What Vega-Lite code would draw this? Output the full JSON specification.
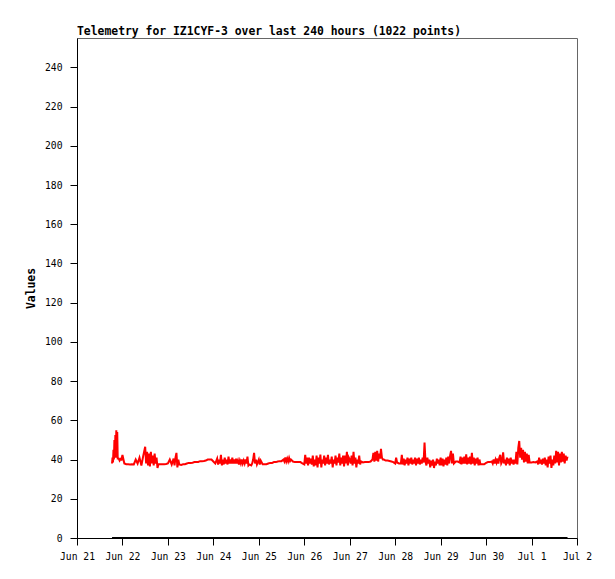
{
  "$schema": "https://vega.github.io/schema/vega-lite/v6.json",
  "width": 500,
  "height": 500,
  "autosize": {"type": "none"},
  "padding": {"left": 77, "top": 38, "right": 38, "bottom": 41},
  "background": "white",
  "title": {"text": "Telemetry for IZ1CYF-3 over last 240 hours (1022 points)", "anchor": "start", "frame": "group", "font": "DejaVu Sans Mono", "fontSize": 11.4, "fontWeight": "bold", "color": "black", "dx": 0, "dy": 11, "offset": 3, "baseline": "alphabetic"},
  "config": {
    "view": {"stroke": "#666", "strokeWidth": 1},
    "axis": {"labelFont": "DejaVu Sans Mono", "labelFontSize": 9.7, "labelColor": "black", "tickColor": "black", "domainColor": "black", "tickSize": 7, "grid": false, "titleFont": "DejaVu Sans Mono", "titleFontSize": 11.4, "titleFontWeight": "bold", "titleColor": "black"}
  },
  "datasets": {
    "zero": [{"t": "2024-06-21T18:30", "v": 0}, {"t": "2024-07-01T19:00", "v": 0}],
    "tele": [
      {"t":"2024-06-21T18:30","v":38},{"t":"2024-06-21T18:45","v":41},{"t":"2024-06-21T19:00","v":38.5},{"t":"2024-06-21T19:15","v":45},{"t":"2024-06-21T19:30","v":40},{"t":"2024-06-21T19:45","v":50},{"t":"2024-06-21T20:00","v":41},{"t":"2024-06-21T20:15","v":52.5},{"t":"2024-06-21T20:30","v":42},{"t":"2024-06-21T20:45","v":55},{"t":"2024-06-21T21:00","v":41},{"t":"2024-06-21T21:15","v":54},{"t":"2024-06-21T21:30","v":40.5},{"t":"2024-06-21T22:00","v":40.5},{"t":"2024-06-21T22:30","v":39.5},{"t":"2024-06-21T23:00","v":40.3},{"t":"2024-06-21T23:30","v":40},
      {"t":"2024-06-22T00:00","v":42.4},{"t":"2024-06-22T01:00","v":38},{"t":"2024-06-22T02:00","v":37.6},{"t":"2024-06-22T03:00","v":37.6},{"t":"2024-06-22T04:00","v":37.5},{"t":"2024-06-22T05:00","v":37.6},{"t":"2024-06-22T06:00","v":37.5},{"t":"2024-06-22T07:00","v":40},{"t":"2024-06-22T08:00","v":38},{"t":"2024-06-22T09:00","v":41},{"t":"2024-06-22T10:00","v":37},{"t":"2024-06-22T11:00","v":42},{"t":"2024-06-22T12:00","v":46.5},{"t":"2024-06-22T12:30","v":38},{"t":"2024-06-22T13:00","v":44},{"t":"2024-06-22T13:30","v":37},{"t":"2024-06-22T14:00","v":43},{"t":"2024-06-22T14:30","v":36.5},{"t":"2024-06-22T15:00","v":44},{"t":"2024-06-22T15:30","v":38},{"t":"2024-06-22T16:00","v":42},{"t":"2024-06-22T16:30","v":37},{"t":"2024-06-22T17:00","v":43},{"t":"2024-06-22T17:30","v":38},{"t":"2024-06-22T18:00","v":41},{"t":"2024-06-22T18:30","v":35.7},{"t":"2024-06-22T19:00","v":37.6},{"t":"2024-06-22T20:00","v":37.6},{"t":"2024-06-22T21:00","v":37.6},{"t":"2024-06-22T22:00","v":37.6},{"t":"2024-06-22T23:00","v":37.7},
      {"t":"2024-06-23T00:00","v":38},{"t":"2024-06-23T01:00","v":40},{"t":"2024-06-23T02:00","v":37.5},{"t":"2024-06-23T03:00","v":40.5},{"t":"2024-06-23T03:30","v":37},{"t":"2024-06-23T04:00","v":41},{"t":"2024-06-23T04:30","v":43.4},{"t":"2024-06-23T05:00","v":36},{"t":"2024-06-23T05:30","v":40},{"t":"2024-06-23T06:00","v":37.5},{"t":"2024-06-23T07:00","v":37.3},{"t":"2024-06-23T08:00","v":37.6},{"t":"2024-06-23T09:00","v":37.6},{"t":"2024-06-23T10:00","v":38},{"t":"2024-06-23T11:00","v":38.3},{"t":"2024-06-23T12:00","v":38.3},{"t":"2024-06-23T13:00","v":38.4},{"t":"2024-06-23T14:00","v":38.7},{"t":"2024-06-23T15:00","v":38.7},{"t":"2024-06-23T16:00","v":38.8},{"t":"2024-06-23T17:00","v":39.2},{"t":"2024-06-23T18:00","v":39.2},{"t":"2024-06-23T19:00","v":39.3},{"t":"2024-06-23T20:00","v":39.5},{"t":"2024-06-23T21:00","v":40},{"t":"2024-06-23T22:00","v":40},{"t":"2024-06-23T23:00","v":40},
      {"t":"2024-06-24T00:00","v":39},{"t":"2024-06-24T01:00","v":38},{"t":"2024-06-24T02:00","v":40.5},{"t":"2024-06-24T02:30","v":37.5},{"t":"2024-06-24T03:00","v":40},{"t":"2024-06-24T03:30","v":38},{"t":"2024-06-24T04:00","v":42.4},{"t":"2024-06-24T04:30","v":37},{"t":"2024-06-24T05:00","v":40},{"t":"2024-06-24T05:30","v":37.5},{"t":"2024-06-24T06:00","v":41},{"t":"2024-06-24T06:30","v":38},{"t":"2024-06-24T07:00","v":40},{"t":"2024-06-24T07:30","v":37.5},{"t":"2024-06-24T08:00","v":41.5},{"t":"2024-06-24T08:30","v":38},{"t":"2024-06-24T09:00","v":40},{"t":"2024-06-24T09:30","v":38},{"t":"2024-06-24T10:00","v":41},{"t":"2024-06-24T10:30","v":38},{"t":"2024-06-24T11:00","v":40},{"t":"2024-06-24T11:30","v":38},{"t":"2024-06-24T12:00","v":40.5},{"t":"2024-06-24T12:30","v":38},{"t":"2024-06-24T13:00","v":39.5},{"t":"2024-06-24T13:30","v":37.5},{"t":"2024-06-24T14:00","v":39.5},{"t":"2024-06-24T14:30","v":38},{"t":"2024-06-24T15:00","v":40},{"t":"2024-06-24T15:30","v":38},{"t":"2024-06-24T16:00","v":39.5},{"t":"2024-06-24T16:30","v":38},{"t":"2024-06-24T17:00","v":40},{"t":"2024-06-24T17:30","v":38},{"t":"2024-06-24T18:00","v":41.5},{"t":"2024-06-24T18:30","v":37},{"t":"2024-06-24T19:00","v":37.5},{"t":"2024-06-24T20:00","v":37},{"t":"2024-06-24T20:30","v":38},{"t":"2024-06-24T21:00","v":40},{"t":"2024-06-24T21:30","v":43.4},{"t":"2024-06-24T22:00","v":38},{"t":"2024-06-24T22:30","v":40},{"t":"2024-06-24T23:00","v":37.5},
      {"t":"2024-06-25T00:00","v":40},{"t":"2024-06-25T00:30","v":37.5},{"t":"2024-06-25T01:00","v":39.5},{"t":"2024-06-25T02:00","v":37.6},{"t":"2024-06-25T03:00","v":37.6},{"t":"2024-06-25T04:00","v":37.6},{"t":"2024-06-25T05:00","v":38},{"t":"2024-06-25T06:00","v":38.3},{"t":"2024-06-25T07:00","v":38.3},{"t":"2024-06-25T08:00","v":38.7},{"t":"2024-06-25T09:00","v":38.7},{"t":"2024-06-25T10:00","v":39},{"t":"2024-06-25T11:00","v":39.2},{"t":"2024-06-25T12:00","v":39.2},{"t":"2024-06-25T13:00","v":40},{"t":"2024-06-25T13:30","v":39},{"t":"2024-06-25T14:00","v":41},{"t":"2024-06-25T14:30","v":39},{"t":"2024-06-25T15:00","v":40.5},{"t":"2024-06-25T15:30","v":39},{"t":"2024-06-25T16:00","v":40.8},{"t":"2024-06-25T16:30","v":39.2},{"t":"2024-06-25T17:00","v":40},{"t":"2024-06-25T18:00","v":39},{"t":"2024-06-25T19:00","v":38.7},{"t":"2024-06-25T20:00","v":38.7},{"t":"2024-06-25T21:00","v":38.7},{"t":"2024-06-25T22:00","v":38.7},{"t":"2024-06-25T23:00","v":38},
      {"t":"2024-06-26T00:00","v":37.5},{"t":"2024-06-26T00:30","v":42.4},{"t":"2024-06-26T01:00","v":38},{"t":"2024-06-26T01:30","v":41},{"t":"2024-06-26T02:00","v":37},{"t":"2024-06-26T02:30","v":41},{"t":"2024-06-26T03:00","v":38},{"t":"2024-06-26T03:30","v":40.5},{"t":"2024-06-26T04:00","v":37.5},{"t":"2024-06-26T04:30","v":42},{"t":"2024-06-26T05:00","v":36.5},{"t":"2024-06-26T05:30","v":40},{"t":"2024-06-26T06:00","v":37},{"t":"2024-06-26T06:30","v":42},{"t":"2024-06-26T07:00","v":36},{"t":"2024-06-26T07:30","v":41},{"t":"2024-06-26T08:00","v":38},{"t":"2024-06-26T08:30","v":42.5},{"t":"2024-06-26T09:00","v":36},{"t":"2024-06-26T09:30","v":40},{"t":"2024-06-26T10:00","v":38},{"t":"2024-06-26T10:30","v":42},{"t":"2024-06-26T11:00","v":37},{"t":"2024-06-26T11:30","v":41},{"t":"2024-06-26T12:00","v":38},{"t":"2024-06-26T12:30","v":42.4},{"t":"2024-06-26T13:00","v":37.5},{"t":"2024-06-26T13:30","v":40},{"t":"2024-06-26T14:00","v":38},{"t":"2024-06-26T14:30","v":41.5},{"t":"2024-06-26T15:00","v":36},{"t":"2024-06-26T15:30","v":40},{"t":"2024-06-26T16:00","v":38},{"t":"2024-06-26T16:30","v":42},{"t":"2024-06-26T17:00","v":37},{"t":"2024-06-26T17:30","v":41},{"t":"2024-06-26T18:00","v":38.5},{"t":"2024-06-26T18:30","v":43},{"t":"2024-06-26T19:00","v":37},{"t":"2024-06-26T19:30","v":41},{"t":"2024-06-26T20:00","v":38},{"t":"2024-06-26T20:30","v":42},{"t":"2024-06-26T21:00","v":36.5},{"t":"2024-06-26T21:30","v":42},{"t":"2024-06-26T22:00","v":38},{"t":"2024-06-26T22:30","v":44},{"t":"2024-06-26T23:00","v":37},{"t":"2024-06-26T23:30","v":41},
      {"t":"2024-06-27T00:00","v":40},{"t":"2024-06-27T00:30","v":38},{"t":"2024-06-27T01:00","v":42},{"t":"2024-06-27T01:30","v":37},{"t":"2024-06-27T02:00","v":44},{"t":"2024-06-27T02:30","v":38},{"t":"2024-06-27T03:00","v":41},{"t":"2024-06-27T03:30","v":36},{"t":"2024-06-27T04:00","v":40},{"t":"2024-06-27T04:30","v":38},{"t":"2024-06-27T05:00","v":42},{"t":"2024-06-27T05:30","v":37.5},{"t":"2024-06-27T06:00","v":39},{"t":"2024-06-27T07:00","v":38.5},{"t":"2024-06-27T08:00","v":38.7},{"t":"2024-06-27T09:00","v":38.7},{"t":"2024-06-27T10:00","v":38.7},{"t":"2024-06-27T11:00","v":39},{"t":"2024-06-27T12:00","v":40},{"t":"2024-06-27T12:30","v":43.4},{"t":"2024-06-27T13:00","v":39},{"t":"2024-06-27T13:30","v":44},{"t":"2024-06-27T14:00","v":39.5},{"t":"2024-06-27T14:30","v":44.5},{"t":"2024-06-27T15:00","v":39},{"t":"2024-06-27T15:30","v":43},{"t":"2024-06-27T16:00","v":40.5},{"t":"2024-06-27T16:30","v":45.5},{"t":"2024-06-27T17:00","v":41},{"t":"2024-06-27T17:30","v":40},{"t":"2024-06-27T18:00","v":40},{"t":"2024-06-27T19:00","v":39.5},{"t":"2024-06-27T20:00","v":39.5},{"t":"2024-06-27T21:00","v":39.3},{"t":"2024-06-27T22:00","v":39},{"t":"2024-06-27T23:00","v":38.7},
      {"t":"2024-06-28T00:00","v":38},{"t":"2024-06-28T00:30","v":41},{"t":"2024-06-28T01:00","v":38.5},{"t":"2024-06-28T02:00","v":38},{"t":"2024-06-28T03:00","v":38},{"t":"2024-06-28T03:30","v":42.4},{"t":"2024-06-28T04:00","v":37.5},{"t":"2024-06-28T04:30","v":40.5},{"t":"2024-06-28T05:00","v":37},{"t":"2024-06-28T05:30","v":40},{"t":"2024-06-28T06:00","v":38},{"t":"2024-06-28T06:30","v":41},{"t":"2024-06-28T07:00","v":37},{"t":"2024-06-28T07:30","v":40.5},{"t":"2024-06-28T08:00","v":38},{"t":"2024-06-28T08:30","v":41},{"t":"2024-06-28T09:00","v":37.5},{"t":"2024-06-28T09:30","v":40},{"t":"2024-06-28T10:00","v":38},{"t":"2024-06-28T10:30","v":41},{"t":"2024-06-28T11:00","v":37},{"t":"2024-06-28T11:30","v":40.5},{"t":"2024-06-28T12:00","v":38},{"t":"2024-06-28T12:30","v":41},{"t":"2024-06-28T13:00","v":37.5},{"t":"2024-06-28T13:30","v":40},{"t":"2024-06-28T14:00","v":38},{"t":"2024-06-28T14:30","v":41},{"t":"2024-06-28T15:00","v":38.5},{"t":"2024-06-28T15:30","v":48.7},{"t":"2024-06-28T16:00","v":39},{"t":"2024-06-28T16:30","v":37},{"t":"2024-06-28T17:00","v":41},{"t":"2024-06-28T17:30","v":38},{"t":"2024-06-28T18:00","v":40},{"t":"2024-06-28T18:30","v":36},{"t":"2024-06-28T19:00","v":39.5},{"t":"2024-06-28T19:30","v":37},{"t":"2024-06-28T20:00","v":40},{"t":"2024-06-28T20:30","v":35.7},{"t":"2024-06-28T21:00","v":39},{"t":"2024-06-28T21:30","v":37},{"t":"2024-06-28T22:00","v":40.5},{"t":"2024-06-28T22:30","v":38},{"t":"2024-06-28T23:00","v":40},{"t":"2024-06-28T23:30","v":37},
      {"t":"2024-06-29T00:00","v":41},{"t":"2024-06-29T00:30","v":37},{"t":"2024-06-29T01:00","v":40.5},{"t":"2024-06-29T01:30","v":36.5},{"t":"2024-06-29T02:00","v":40},{"t":"2024-06-29T02:30","v":37.5},{"t":"2024-06-29T03:00","v":41},{"t":"2024-06-29T03:30","v":37},{"t":"2024-06-29T04:00","v":41.5},{"t":"2024-06-29T04:30","v":38},{"t":"2024-06-29T05:00","v":42},{"t":"2024-06-29T05:30","v":44.4},{"t":"2024-06-29T06:00","v":38},{"t":"2024-06-29T06:30","v":43},{"t":"2024-06-29T07:00","v":38},{"t":"2024-06-29T08:00","v":39},{"t":"2024-06-29T09:00","v":39},{"t":"2024-06-29T10:00","v":38.5},{"t":"2024-06-29T10:30","v":41.5},{"t":"2024-06-29T11:00","v":37.5},{"t":"2024-06-29T11:30","v":41},{"t":"2024-06-29T12:00","v":38},{"t":"2024-06-29T12:30","v":41.5},{"t":"2024-06-29T13:00","v":38},{"t":"2024-06-29T13:30","v":42.7},{"t":"2024-06-29T14:00","v":37.5},{"t":"2024-06-29T14:30","v":41},{"t":"2024-06-29T15:00","v":38},{"t":"2024-06-29T15:30","v":41.5},{"t":"2024-06-29T16:00","v":37.5},{"t":"2024-06-29T16:30","v":43.4},{"t":"2024-06-29T17:00","v":38},{"t":"2024-06-29T17:30","v":41},{"t":"2024-06-29T18:00","v":37},{"t":"2024-06-29T18:30","v":40.5},{"t":"2024-06-29T19:00","v":38},{"t":"2024-06-29T19:30","v":41},{"t":"2024-06-29T20:00","v":37},{"t":"2024-06-29T20:30","v":40},{"t":"2024-06-29T21:00","v":37.6},{"t":"2024-06-29T22:00","v":37.6},{"t":"2024-06-29T23:00","v":37.6},
      {"t":"2024-06-30T00:00","v":38.3},{"t":"2024-06-30T01:00","v":38.7},{"t":"2024-06-30T02:00","v":38.7},{"t":"2024-06-30T03:00","v":39},{"t":"2024-06-30T03:30","v":38},{"t":"2024-06-30T04:00","v":40},{"t":"2024-06-30T04:30","v":38},{"t":"2024-06-30T05:00","v":40},{"t":"2024-06-30T05:30","v":38.5},{"t":"2024-06-30T06:00","v":40.5},{"t":"2024-06-30T06:30","v":38},{"t":"2024-06-30T07:00","v":41},{"t":"2024-06-30T07:30","v":42.4},{"t":"2024-06-30T08:00","v":38},{"t":"2024-06-30T08:30","v":39},{"t":"2024-06-30T09:00","v":43.7},{"t":"2024-06-30T09:30","v":38},{"t":"2024-06-30T10:00","v":40},{"t":"2024-06-30T10:30","v":37},{"t":"2024-06-30T11:00","v":41},{"t":"2024-06-30T11:30","v":38},{"t":"2024-06-30T12:00","v":40.5},{"t":"2024-06-30T12:30","v":37},{"t":"2024-06-30T13:00","v":41},{"t":"2024-06-30T13:30","v":38},{"t":"2024-06-30T14:00","v":40},{"t":"2024-06-30T14:30","v":37.5},{"t":"2024-06-30T15:00","v":40},{"t":"2024-06-30T15:30","v":38},{"t":"2024-06-30T16:00","v":44},{"t":"2024-06-30T16:30","v":37.5},{"t":"2024-06-30T17:00","v":46},{"t":"2024-06-30T17:30","v":49.5},{"t":"2024-06-30T18:00","v":41},{"t":"2024-06-30T18:30","v":46},{"t":"2024-06-30T19:00","v":40},{"t":"2024-06-30T19:30","v":45},{"t":"2024-06-30T20:00","v":38.5},{"t":"2024-06-30T20:30","v":44},{"t":"2024-06-30T21:00","v":39},{"t":"2024-06-30T21:30","v":43},{"t":"2024-06-30T22:00","v":38},{"t":"2024-06-30T22:30","v":42.4},{"t":"2024-06-30T23:00","v":38.5},
      {"t":"2024-07-01T00:00","v":38.5},{"t":"2024-07-01T01:00","v":38.7},{"t":"2024-07-01T02:00","v":38.5},{"t":"2024-07-01T03:00","v":39},{"t":"2024-07-01T03:30","v":37.5},{"t":"2024-07-01T04:00","v":41},{"t":"2024-07-01T04:30","v":38},{"t":"2024-07-01T05:00","v":40},{"t":"2024-07-01T05:30","v":37.5},{"t":"2024-07-01T06:00","v":40.5},{"t":"2024-07-01T06:30","v":38},{"t":"2024-07-01T07:00","v":41},{"t":"2024-07-01T07:30","v":37},{"t":"2024-07-01T08:00","v":40},{"t":"2024-07-01T08:30","v":36},{"t":"2024-07-01T09:00","v":41.5},{"t":"2024-07-01T09:30","v":38},{"t":"2024-07-01T10:00","v":42},{"t":"2024-07-01T10:30","v":35.7},{"t":"2024-07-01T11:00","v":40},{"t":"2024-07-01T11:30","v":37},{"t":"2024-07-01T12:00","v":42},{"t":"2024-07-01T12:30","v":38},{"t":"2024-07-01T13:00","v":44.5},{"t":"2024-07-01T13:30","v":38.5},{"t":"2024-07-01T14:00","v":44},{"t":"2024-07-01T14:30","v":37},{"t":"2024-07-01T15:00","v":43},{"t":"2024-07-01T15:30","v":38.5},{"t":"2024-07-01T16:00","v":44},{"t":"2024-07-01T16:30","v":39},{"t":"2024-07-01T17:00","v":43},{"t":"2024-07-01T17:30","v":38},{"t":"2024-07-01T18:00","v":42},{"t":"2024-07-01T18:30","v":39.5},{"t":"2024-07-01T19:00","v":41.5}
    ]
  },
  "encoding": {
    "x": {"field": "t", "type": "temporal", "scale": {"domain": [{"year": 2024, "month": "Jun", "date": 21}, {"year": 2024, "month": "Jul", "date": 2}], "nice": false}, "axis": {"title": null, "format": "%b %-d", "tickCount": {"interval": "day", "step": 1}, "labelPadding": 6, "labelFlush": false, "labelOverlap": false}},
    "y": {"field": "v", "type": "quantitative", "scale": {"domain": [0, 255], "nice": false}, "axis": {"title": "Values", "values": [0, 20, 40, 60, 80, 100, 120, 140, 160, 180, 200, 220, 240], "labelPadding": 8, "titlePadding": 8}}
  },
  "layer": [
    {"data": {"name": "zero"}, "mark": {"type": "line", "color": "black", "strokeWidth": 2, "strokeCap": "butt"}},
    {"data": {"name": "tele"}, "mark": {"type": "line", "color": "#ff0000", "strokeWidth": 2, "strokeCap": "butt", "strokeJoin": "miter"}}
  ]
}
